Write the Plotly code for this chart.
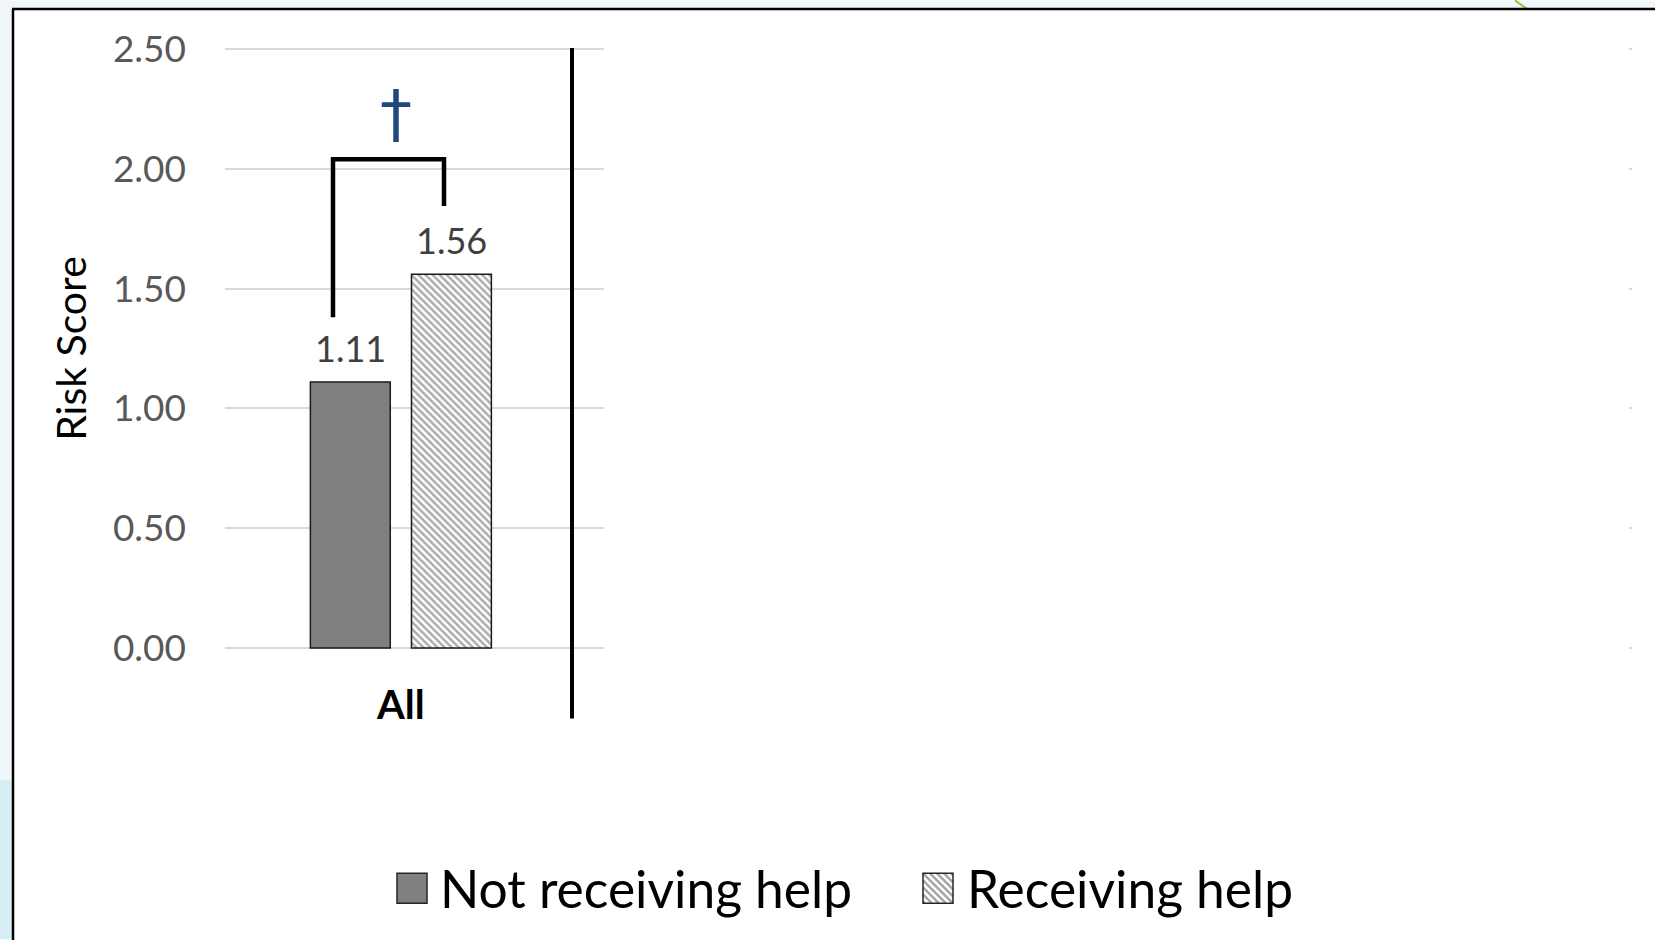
import plotly.graph_objects as go

# ---- data ----
categories = ["All"]
series_names = ["Not receiving help", "Receiving help"]
not_receiving = [1.11]
receiving = [1.56]
y_tick_values = [0.0, 0.5, 1.0, 1.5, 2.0, 2.5]
y_tick_labels = ["0.00", "0.50", "1.00", "1.50", "2.00", "2.50"]
y_title = "Risk Score"
significance_mark = "\u2020"

# ---- page geometry ----
W, H = 1655, 940
Y_LO, Y_HI = -0.012, 2.512          # headroom so the end gridlines are drawn
PX_PER_UNIT = 240.0
ZERO_PX = 648.5                      # pixel row of y = 0
ML, MR = 225, 23
MT = ZERO_PX - Y_HI * PX_PER_UNIT
MB = H - (ZERO_PX - Y_LO * PX_PER_UNIT)
PW, PH = W - ML - MR, H - MT - MB
FONT = "Lato"


def px_x(px):
    return (px - ML) / PW


def px_y(py):
    return (H - MB - py) / PH


BARGAP, GROUPGAP = 0.425, 0.21
slot = (1 - BARGAP) / 2
x_idx = list(range(len(categories)))

fig = go.Figure()
fig.add_bar(
    x=x_idx, y=not_receiving, name=series_names[0], showlegend=False,
    marker=dict(color="#808080", line=dict(color="#1a1a1a", width=1.5)),
)
fig.add_bar(
    x=x_idx, y=receiving, name=series_names[1], showlegend=False,
    marker=dict(
        color="#ffffff",
        pattern=dict(shape="\\", fgcolor="#5a5a5a", bgcolor="#ffffff",
                     size=5, solidity=0.5),
        line=dict(color="#1a1a1a", width=1.5),
    ),
)

annotations = []
# value labels above each bar
for offset, values in ((-slot / 2, not_receiving), (slot / 2, receiving)):
    for i, v in zip(x_idx, values):
        annotations.append(dict(
            x=i + offset, y=v, xref="x", yref="y", text=f"{v:.2f}",
            showarrow=False, yanchor="middle", yshift=34,
            font=dict(family=FONT, size=36, color="#404040"),
        ))

# significance marker above the bracket
annotations.append(dict(
    x=-0.0147, y=2.23, xref="x", yref="y", text=significance_mark,
    showarrow=False, yanchor="middle",
    font=dict(family="DejaVu Sans", size=64, color="#1f497d"),
))

# legend (drawn manually to get large swatches)
legend_y = 889
for text_px, name in ((438, series_names[0]), (965, series_names[1])):
    annotations.append(dict(
        x=px_x(text_px), y=px_y(legend_y), xref="paper", yref="paper",
        text=name, showarrow=False, xanchor="left", yanchor="middle",
        font=dict(family=FONT, size=51.5, color="#000000"),
    ))

shapes = []
# outer slide background strips and frame
shapes.append(dict(type="rect", xref="paper", yref="paper", layer="below",
                   x0=px_x(0), x1=px_x(13), y0=px_y(0), y1=px_y(780),
                   fillcolor="#f0f7fa", line=dict(width=0)))
shapes.append(dict(type="rect", xref="paper", yref="paper", layer="below",
                   x0=px_x(0), x1=px_x(13), y0=px_y(780), y1=px_y(940),
                   fillcolor="#d9eef4", line=dict(width=0)))
shapes.append(dict(type="rect", xref="paper", yref="paper", layer="below",
                   x0=px_x(0), x1=px_x(W), y0=px_y(0), y1=px_y(8.5),
                   fillcolor="#f0f7fa", line=dict(width=0)))
shapes.append(dict(type="line", xref="paper", yref="paper",
                   x0=px_x(1515), x1=px_x(1527), y0=px_y(0), y1=px_y(8.5),
                   line=dict(color="#8dc63f", width=2)))
shapes.append(dict(type="line", xref="paper", yref="paper",
                   x0=px_x(13), x1=px_x(13), y0=px_y(8.5), y1=px_y(H + 5),
                   line=dict(color="#000000", width=2.5)))
shapes.append(dict(type="line", xref="paper", yref="paper",
                   x0=px_x(12), x1=px_x(W + 5), y0=px_y(8.5), y1=px_y(8.5),
                   line=dict(color="#000000", width=2.5)))

# blank panel over the unused part of the category axis
shapes.append(dict(type="rect", xref="x", yref="y", layer="above",
                   x0=0.577, x1=3.4915, y0=Y_LO - 0.02, y1=Y_HI + 0.02,
                   fillcolor="#ffffff", line=dict(width=0)))

# separator line after the first category (runs below the plot area)
shapes.append(dict(type="line", xref="x", yref="paper", layer="above",
                   x0=0.4865, x1=0.4865, y0=px_y(719), y1=px_y(47.5),
                   line=dict(color="#000000", width=4)))

# significance bracket
bracket_x = [-0.193, -0.193, 0.1226, 0.1226]
bracket_y = [1.38, 2.04, 2.04, 1.845]
path = "M " + " L ".join(f"{a},{b}" for a, b in zip(bracket_x, bracket_y))
shapes.append(dict(type="path", xref="x", yref="y", layer="above", path=path,
                   line=dict(color="#000000", width=4.5)))

# legend swatches
SW = 30
sw_top = 874
shapes.append(dict(type="rect", xref="paper", yref="paper",
                   x0=px_x(397), x1=px_x(397 + SW),
                   y0=px_y(sw_top + SW), y1=px_y(sw_top),
                   fillcolor="#808080", line=dict(color="#262626", width=1.5)))
hx = 923
spacing = 7
segs = []
c = -SW + 2
while c < SW:
    u1, u2 = max(0, -c), min(SW, SW - c)
    if u2 - u1 > 1:
        segs.append(f"M{u1},{-(u1 + c)} L{u2},{-(u2 + c)}")
    c += spacing
shapes.append(dict(type="rect", xref="paper", yref="paper",
                   x0=px_x(hx), x1=px_x(hx + SW),
                   y0=px_y(sw_top + SW), y1=px_y(sw_top),
                   fillcolor="#ffffff", line=dict(width=0)))
shapes.append(dict(type="path", xref="paper", yref="paper",
                   xsizemode="pixel", ysizemode="pixel",
                   xanchor=px_x(hx), yanchor=px_y(sw_top),
                   path=" ".join(segs),
                   line=dict(color="#a6a6a6", width=2.5)))
shapes.append(dict(type="rect", xref="paper", yref="paper",
                   x0=px_x(hx), x1=px_x(hx + SW),
                   y0=px_y(sw_top + SW), y1=px_y(sw_top),
                   fillcolor="rgba(0,0,0,0)", line=dict(color="#262626", width=1.5)))

fig.update_layout(
    width=W, height=H,
    margin=dict(l=ML, r=MR, t=MT, b=MB, pad=0),
    paper_bgcolor="#ffffff", plot_bgcolor="#ffffff",
    barmode="group", bargap=BARGAP, bargroupgap=GROUPGAP,
    showlegend=False,
    annotations=annotations, shapes=shapes,
    xaxis=dict(
        range=[-0.5, 3.5], tickvals=x_idx,
        ticktext=[f"<b>{c}</b>" for c in categories],
        tickfont=dict(family=FONT, size=40, color="#000000"),
        showgrid=False, zeroline=False, showline=False, ticks="",
        ticklabelstandoff=27,
    ),
    yaxis=dict(
        range=[Y_LO, Y_HI], tickvals=y_tick_values, ticktext=y_tick_labels,
        tickfont=dict(family=FONT, size=37, color="#595959"),
        showgrid=True, gridcolor="#d9d9d9", gridwidth=1.6,
        zeroline=False, showline=False, ticks="",
        ticklabelstandoff=38,
        title=dict(text=y_title, standoff=13,
                   font=dict(family=FONT, size=41, color="#000000")),
    ),
)

fig.write_html("out.html")
